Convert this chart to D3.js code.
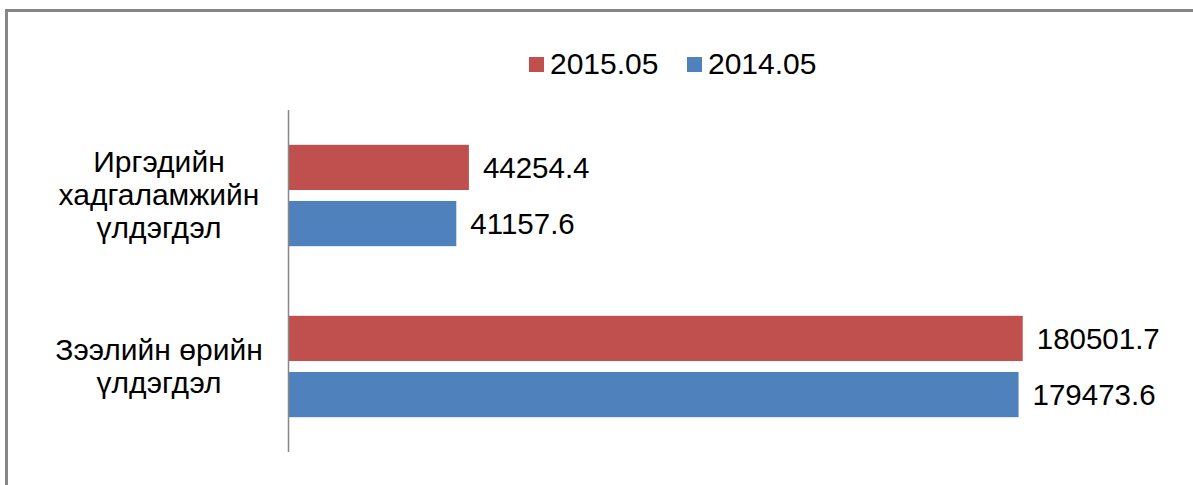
<!DOCTYPE html>
<html>
<head>
<meta charset="utf-8">
<script src="https://d3js.org/d3.v7.min.js"></script>
<style>
  body { margin: 0; background: #fff; }
  svg text { font-family: "Liberation Sans", Arial, sans-serif; fill: #000; }
</style>
</head>
<body>
<div id="chart"></div>
<script>
// categories (each label split into lines) and series
const categories = ["Иргэдийн хадгаламжийн үлдэгдэл", "Зээлийн өрийн үлдэгдэл"];
const categoryLines = [
  ["Иргэдийн", "хадгаламжийн", "үлдэгдэл"],
  ["Зээлийн өрийн", "үлдэгдэл"]
];
const seriesNames = ["2015.05", "2014.05"];
const values2015 = [44254.4, 180501.7];
const values2014 = [41157.6, 179473.6];
const seriesColors = ["#C0504D", "#4F81BD"];

const W = 1193, H = 485;
const svg = d3.select("#chart").append("svg")
  .attr("width", W)
  .attr("height", H);

// outer frame (goes past right/bottom edge)
svg.append("rect")
  .attr("x", 6.5).attr("y", 10.5)
  .attr("width", 1400).attr("height", 700)
  .attr("fill", "none")
  .attr("stroke", "#878787")
  .attr("stroke-width", 3);

const x = d3.scaleLinear()
  .domain([0, 200000])
  .range([289, 1102]);

const y = d3.scaleBand()
  .domain(categories)
  .range([110, 452])
  .paddingInner(0)
  .paddingOuter(0);

const ySub = d3.scaleBand()
  .domain(seriesNames)
  .range([0, y.bandwidth()])
  .paddingInner(0.195)
  .paddingOuter(0.62);

const rows = categories.map((c, i) => ({
  cat: c,
  vals: [
    { key: seriesNames[0], value: values2015[i], color: seriesColors[0] },
    { key: seriesNames[1], value: values2014[i], color: seriesColors[1] }
  ]
}));

const groups = svg.append("g")
  .selectAll("g")
  .data(rows)
  .join("g")
  .attr("transform", d => `translate(0,${y(d.cat)})`);

groups.selectAll("rect")
  .data(d => d.vals)
  .join("rect")
  .attr("x", x(0))
  .attr("y", d => ySub(d.key))
  .attr("width", d => x(d.value) - x(0))
  .attr("height", ySub.bandwidth())
  .attr("fill", d => d.color);

// value labels
groups.selectAll("text.val")
  .data(d => d.vals)
  .join("text")
  .attr("class", "val")
  .attr("x", d => x(d.value) + 14)
  .attr("y", d => ySub(d.key) + ySub.bandwidth() / 2)
  .attr("dy", "0.36em")
  .style("font-size", "29.5px")
  .text(d => d.value.toFixed(1));

// vertical axis line
svg.append("line")
  .attr("x1", 288.5).attr("x2", 288.5)
  .attr("y1", y.range()[0]).attr("y2", y.range()[1])
  .attr("stroke", "#878787")
  .attr("stroke-width", 1.5);

// category labels, multi-line, centred
const lineH = 33;
categories.forEach((c, i) => {
  const lines = categoryLines[i];
  const cy = y(c) + y.bandwidth() / 2;
  const t = svg.append("text")
    .attr("text-anchor", "middle")
    .style("font-size", "30px");
  lines.forEach((ln, j) => {
    t.append("tspan")
      .attr("x", 159)
      .attr("y", cy + (j - (lines.length - 1) / 2) * lineH)
      .attr("dy", "0.33em")
      .text(ln);
  });
});

// legend
const legendX = [529, 687];
const legend = svg.append("g");
seriesNames.forEach((s, i) => {
  legend.append("rect")
    .attr("x", legendX[i]).attr("y", 57)
    .attr("width", 15).attr("height", 15)
    .attr("fill", seriesColors[i]);
  legend.append("text")
    .attr("x", legendX[i] + 21)
    .attr("y", 74)
    .style("font-size", "30px")
    .text(s);
});
</script>
</body>
</html>
